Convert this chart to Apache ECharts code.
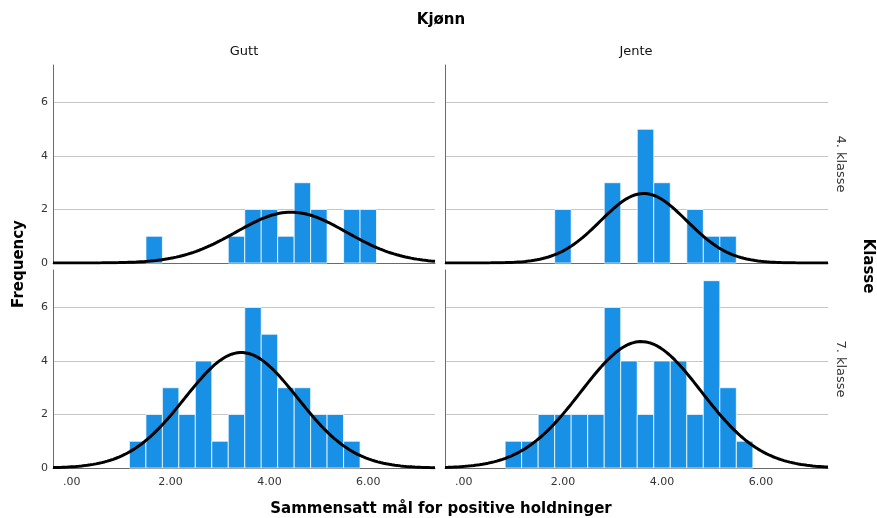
<!DOCTYPE html>
<html>
<head>
<meta charset="utf-8">
<script src="https://cdn.jsdelivr.net/npm/echarts@6/dist/echarts.min.js"></script>
<style>
html,body{margin:0;padding:0;background:#fff;}
#chart{width:877px;height:518px;}
</style>
</head>
<body>
<div id="chart"></div>
<script>
// ---- data ----
var BIN_CENTERS = [1.000, 1.333, 1.667, 2.000, 2.333, 2.667, 3.000, 3.333, 3.667, 4.000, 4.333, 4.667, 5.000, 5.333, 5.667, 6.000];
var BIN_WIDTH = 0.3333;
var COUNTS_GUTT_4  = [0, 0, 1, 0, 0, 0, 0, 1, 2, 2, 1, 3, 2, 0, 2, 2];
var COUNTS_JENTE_4 = [0, 0, 0, 2, 0, 0, 3, 0, 5, 3, 0, 2, 1, 1, 0, 0];
var COUNTS_GUTT_7  = [0, 1, 2, 3, 2, 4, 1, 2, 6, 5, 3, 3, 2, 2, 1, 0];
var COUNTS_JENTE_7 = [1, 1, 2, 2, 2, 2, 6, 4, 2, 4, 4, 2, 7, 3, 1, 0];
// normal curve parameters (mean, std. deviation) per panel: Gutt4, Jente4, Gutt7, Jente7
var CURVE_MEAN = [4.44, 3.63, 3.43, 3.58];
var CURVE_SD   = [1.12, 0.87, 1.14, 1.21];
var X_TICKS = [0, 2, 4, 6];
var X_TICK_LABELS = ['.00', '2.00', '4.00', '6.00'];
var Y_TICK_STEP = 2;
var COLS = ['Gutt', 'Jente'];
var ROWS = ['4. klasse', '7. klasse'];
var TITLE_COL = 'Kjønn';
var TITLE_ROW = 'Klasse';
var X_TITLE = 'Sammensatt mål for positive holdninger';
var Y_TITLE = 'Frequency';

// ---- build ----
var FONT = 'DejaVu Sans';
var panels = [COUNTS_GUTT_4, COUNTS_JENTE_4, COUNTS_GUTT_7, COUNTS_JENTE_7];
var XMIN = -0.38, XMAX = 7.35, YMAX = 7.4;
var gridPos = [
  {left: 53, top: 65, width: 382, height: 198},
  {left: 445, top: 65, width: 383, height: 198},
  {left: 53, top: 270, width: 382, height: 198},
  {left: 445, top: 270, width: 383, height: 198}
];

function curvePoints(i) {
  var counts = panels[i];
  var n = 0;
  counts.forEach(function (c) { n += c; });
  var m = CURVE_MEAN[i], s = CURVE_SD[i];
  var pts = [];
  for (var k = 0; k <= 400; k++) {
    var x = XMIN + (XMAX - XMIN) * k / 400;
    var y = n * BIN_WIDTH / (s * Math.sqrt(2 * Math.PI)) * Math.exp(-0.5 * Math.pow((x - m) / s, 2));
    pts.push([x, y]);
  }
  return pts;
}

var grids = [], xAxes = [], yAxes = [], series = [];
for (var i = 0; i < 4; i++) {
  var bottomRow = i >= 2, leftCol = (i % 2 === 0);
  grids.push(gridPos[i]);
  xAxes.push({
    type: 'value', gridIndex: i, min: XMIN, max: XMAX,
    axisLine: {show: true, onZero: false, lineStyle: {color: '#6b6b6b', width: 1}},
    axisTick: {show: false},
    splitLine: {show: false},
    axisLabel: {
      show: bottomRow, customValues: X_TICKS, margin: 9,
      fontFamily: FONT, fontSize: 11, color: '#333',
      formatter: function (v) {
        var idx = X_TICKS.indexOf(v);
        return idx >= 0 ? X_TICK_LABELS[idx] : '';
      }
    }
  });
  yAxes.push({
    type: 'value', gridIndex: i, min: 0, max: YMAX, interval: Y_TICK_STEP,
    axisLine: {show: true, onZero: false, lineStyle: {color: '#6b6b6b', width: 1}},
    axisTick: {show: false},
    splitLine: {show: true, showMinLine: false, showMaxLine: false, lineStyle: {color: '#c6c6c6', width: 1}},
    axisLabel: {
      show: leftCol, showMaxLabel: false, margin: 5,
      fontFamily: FONT, fontSize: 11, color: '#333'
    }
  });
  var barData = BIN_CENTERS.map(function (c, j) { return [c, panels[i][j]]; });
  series.push({
    type: 'custom', xAxisIndex: i, yAxisIndex: i, data: barData, z: 2,
    renderItem: function (params, api) {
      var c = api.value(0), n = api.value(1);
      if (!n) return null;
      var p0 = api.coord([c - BIN_WIDTH / 2, n]);
      var p1 = api.coord([c + BIN_WIDTH / 2, 0]);
      return {
        type: 'rect',
        shape: {x: p0[0], y: p0[1], width: p1[0] - p0[0], height: p1[1] - p0[1]},
        style: {fill: '#1790e6', stroke: 'rgba(255,255,255,0.75)', lineWidth: 1}
      };
    }
  });
  series.push({
    type: 'line', xAxisIndex: i, yAxisIndex: i, data: curvePoints(i),
    symbol: 'none', smooth: false, z: 5, silent: true,
    lineStyle: {color: '#000', width: 3}
  });
}

var txt = function (x, y, text, opts) {
  opts = opts || {};
  return {
    type: 'text', x: x, y: y, rotation: opts.rot || 0,
    style: {
      text: text, fill: opts.color || '#000', align: 'center', verticalAlign: 'middle',
      font: (opts.bold ? 'bold ' : '') + (opts.size || 12) + 'px "' + FONT + '"'
    }
  };
};

var graphics = [
  txt(441, 20, TITLE_COL, {bold: true, size: 15}),
  txt(244, 52, COLS[0], {size: 13, color: '#111'}),
  txt(636, 52, COLS[1], {size: 13, color: '#111'}),
  txt(840, 164, ROWS[0], {size: 13, color: '#333', rot: -Math.PI / 2}),
  txt(840, 369, ROWS[1], {size: 13, color: '#333', rot: -Math.PI / 2}),
  txt(868, 266, TITLE_ROW, {bold: true, size: 15, rot: -Math.PI / 2}),
  txt(19, 264, Y_TITLE, {bold: true, size: 15, rot: Math.PI / 2}),
  txt(441, 509, X_TITLE, {bold: true, size: 15})
];

var chart = echarts.init(document.getElementById('chart'), null, {renderer: 'canvas'});
chart.setOption({
  animation: false,
  backgroundColor: '#fff',
  grid: grids,
  xAxis: xAxes,
  yAxis: yAxes,
  series: series,
  graphic: graphics
});
</script>
</body>
</html>
